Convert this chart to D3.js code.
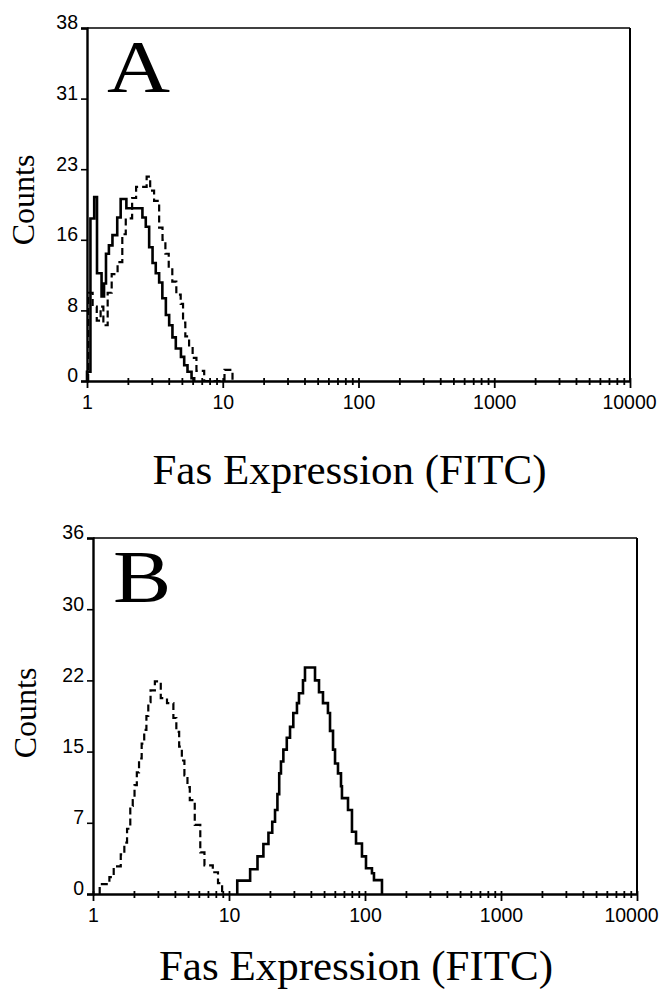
<!DOCTYPE html>
<html>
<head>
<meta charset="utf-8">
<script src="https://cdn.jsdelivr.net/npm/d3@7/dist/d3.min.js"></script>
<style>
  body { margin: 0; background: #fff; }
  svg { display: block; }
  .num { font-family: 'Liberation Sans', Arial, sans-serif; font-size: 19.5px; fill: #000; }
  .serif { font-family: 'Liberation Serif', 'Times New Roman', serif; fill: #000; }
</style>
</head>
<body>
<div id="chart"></div>
<script>
// histogram steps: [channel where the step starts, counts]
const aDashed = [
  [1.02, 9.5], [1.1, 8], [1.18, 6.5], [1.26, 8], [1.32, 6], [1.42, 9.5], [1.52, 11.5],
  [1.68, 12.8], [1.82, 15.8], [1.93, 17.5], [2.15, 19.7], [2.3, 20.9], [2.75, 22],
  [2.92, 20.5], [3.12, 19.4], [3.4, 16.5], [3.6, 15.2], [3.78, 13.7], [4.0, 12.3],
  [4.25, 10.7], [4.55, 9.3], [4.9, 8.3], [5.1, 6.3], [5.3, 4.8], [5.65, 3.7], [6.0, 2.5],
  [6.4, 1.1], [7.3, 0], [10.3, 1.2], [11.8, 0]
]
const aSolid = [
  [1.0, 1], [1.06, 17.5], [1.13, 19.8], [1.185, 11.6], [1.28, 9.1], [1.335, 10.5],
  [1.38, 13.7], [1.45, 14.6], [1.54, 15.7], [1.67, 17.6], [1.77, 19.6], [1.95, 18.6],
  [2.56, 17.6], [2.71, 16.6], [2.87, 14.4], [3.04, 12.7], [3.21, 11.6], [3.4, 10.6],
  [3.59, 8.9], [3.81, 7.1], [4.03, 6.0], [4.26, 4.7], [4.51, 3.5], [4.92, 2.6],
  [5.2, 1.7], [5.5, 1.0], [5.89, 0.3], [6.16, 0]
]
const aYTicks = [0, 7.6, 15.2, 22.8, 30.4, 38]
const aYLabels = ['0', '8', '16', '23', '31', '38']

const bDashed = [
  [1.12, 1.0], [1.32, 1.7], [1.42, 2.8], [1.6, 4.0], [1.7, 5.2], [1.78, 6.6], [1.88, 8.9],
  [1.96, 9.5], [2.02, 11.0], [2.1, 12.3], [2.18, 13.7], [2.28, 15.2], [2.38, 16.6],
  [2.47, 18.0], [2.55, 19.4], [2.65, 20.6], [2.85, 21.5], [3.15, 19.8], [3.5, 19.3],
  [3.9, 17.8], [4.1, 16.4], [4.3, 14.9], [4.5, 13.5], [4.7, 12.0], [4.95, 10.8],
  [5.15, 9.5], [5.6, 7.0], [6.15, 4.2], [6.6, 2.9], [7.6, 2.2], [8.3, 1.1], [8.9, 0]
]
const bSolid = [
  [11.5, 1.35], [14.3, 2.5], [16.2, 3.8], [17.9, 5.05], [19.5, 6.2], [20.8, 7.3],
  [21.8, 8.5], [22.7, 10.1], [23.4, 12.2], [24.1, 13.4], [25.1, 14.6], [26.6, 15.8],
  [28.1, 16.9], [29.7, 18.3], [31.6, 19.3], [32.7, 20.3], [35.0, 21.6], [36.2, 22.9],
  [42.9, 21.6], [45.9, 20.4], [49.1, 19.3], [53.4, 18.3], [55.3, 16.5], [58.2, 14.6],
  [60.2, 13.2], [63.3, 12.2], [66.6, 10.9], [67.7, 9.7], [75.0, 8.5], [80.2, 6.3],
  [85.9, 5.1], [95.0, 3.8], [101.7, 2.6], [112.5, 2.1], [116.4, 1.4], [133.3, 0]
]
const bYTicks = [0, 7.2, 14.4, 21.6, 28.8, 36]
const bYLabels = ['0', '7', '15', '22', '30', '36']

const xDecades = [1, 10, 100, 1000, 10000]
const xTitle = 'Fas Expression (FITC)'
const yTitle = 'Counts'

const svg = d3.select('#chart')
  .append('svg')
  .attr('width', 663)
  .attr('height', 990)

function drawPanel (opt) {
  const g = svg.append('g')
    .attr('transform', 'translate(' + opt.left + ',' + opt.top + ')')

  const x = d3.scaleLog().domain([1, 10000]).range([0, opt.width])
  const y = d3.scaleLinear().domain([0, opt.yMax]).range([opt.height, 0])

  // frame top and right
  g.append('line')
    .attr('x1', 0).attr('x2', opt.width)
    .attr('y1', 0).attr('y2', 0)
    .attr('stroke', '#000').attr('stroke-width', 1.6)
  g.append('line')
    .attr('x1', opt.width).attr('x2', opt.width)
    .attr('y1', 0).attr('y2', opt.height)
    .attr('stroke', '#000').attr('stroke-width', 2)

  // x axis, log ticks crossing the line
  const xAxis = g.append('g')
    .attr('transform', 'translate(0,' + opt.height + ')')
    .call(d3.axisBottom(x)
      .tickValues(x.ticks())
      .tickSize(0)
      .tickPadding(0)
      .tickFormat(d => xDecades.includes(d) ? d : ''))
  xAxis.attr('font-size', null).attr('font-family', null)
  xAxis.select('.domain').attr('stroke-width', 2.4)
  xAxis.selectAll('.tick line')
    .attr('y1', -3)
    .attr('y2', d => xDecades.includes(d) ? 7 : 4)
    .attr('stroke-width', 1.8)
  xAxis.selectAll('.tick text')
    .attr('class', 'num')
    .attr('y', 28)
    .attr('dy', null)
    .attr('dx', d => d === 10000 ? opt.lastLabelShift : 0)

  // y axis
  const yAxis = g.append('g')
    .call(d3.axisLeft(y)
      .tickValues(opt.yTicks)
      .tickSize(6)
      .tickPadding(3)
      .tickFormat((d, i) => opt.yLabels[i]))
  yAxis.attr('font-size', null).attr('font-family', null)
  yAxis.select('.domain').attr('stroke-width', 2.4)
  yAxis.selectAll('.tick line').attr('stroke-width', 1.6)
  yAxis.selectAll('.tick text')
    .attr('class', 'num')
    .attr('dy', '0.05em')

  const line = d3.line()
    .x(d => x(d[0]))
    .y(d => y(d[1]))
    .curve(d3.curveStepAfter)

  g.append('path')
    .datum([[opt.dashed[0][0], 0]].concat(opt.dashed))
    .attr('d', line)
    .attr('fill', 'none')
    .attr('stroke', '#000')
    .attr('stroke-width', 2.2)
    .attr('stroke-dasharray', '7,4')

  g.append('path')
    .datum([[opt.solid[0][0], 0]].concat(opt.solid))
    .attr('d', line)
    .attr('fill', 'none')
    .attr('stroke', '#000')
    .attr('stroke-width', 2.6)

  // panel letter
  g.append('text')
    .attr('class', 'serif')
    .attr('transform', 'translate(' + opt.letterX + ',64) scale(1.18,1)')
    .attr('font-size', 74)
    .text(opt.letter)

  // axis titles
  g.append('text')
    .attr('class', 'serif')
    .attr('transform', 'translate(' + (opt.yTitleX - opt.left) + ',' + (opt.yTitleY - opt.top) + ') rotate(-90)')
    .attr('text-anchor', 'middle')
    .attr('font-size', 32)
    .text(yTitle)

  g.append('text')
    .attr('class', 'serif')
    .attr('x', opt.width / 2 - 9)
    .attr('y', opt.height + opt.xTitleGap)
    .attr('text-anchor', 'middle')
    .attr('font-size', 43)
    .text(xTitle)
}

drawPanel({
  left: 87, top: 28, width: 543, height: 353, yMax: 38,
  yTicks: aYTicks, yLabels: aYLabels,
  dashed: aDashed, solid: aSolid, lastLabelShift: -1,
  letter: 'A', letterX: 20, yTitleX: 34, yTitleY: 200, xTitleGap: 103
})

drawPanel({
  left: 93, top: 538, width: 544, height: 356, yMax: 36,
  yTicks: bYTicks, yLabels: bYLabels,
  dashed: bDashed, solid: bSolid, lastLabelShift: -6,
  letter: 'B', letterX: 20, yTitleX: 36, yTitleY: 713, xTitleGap: 86
})
</script>
</body>
</html>
